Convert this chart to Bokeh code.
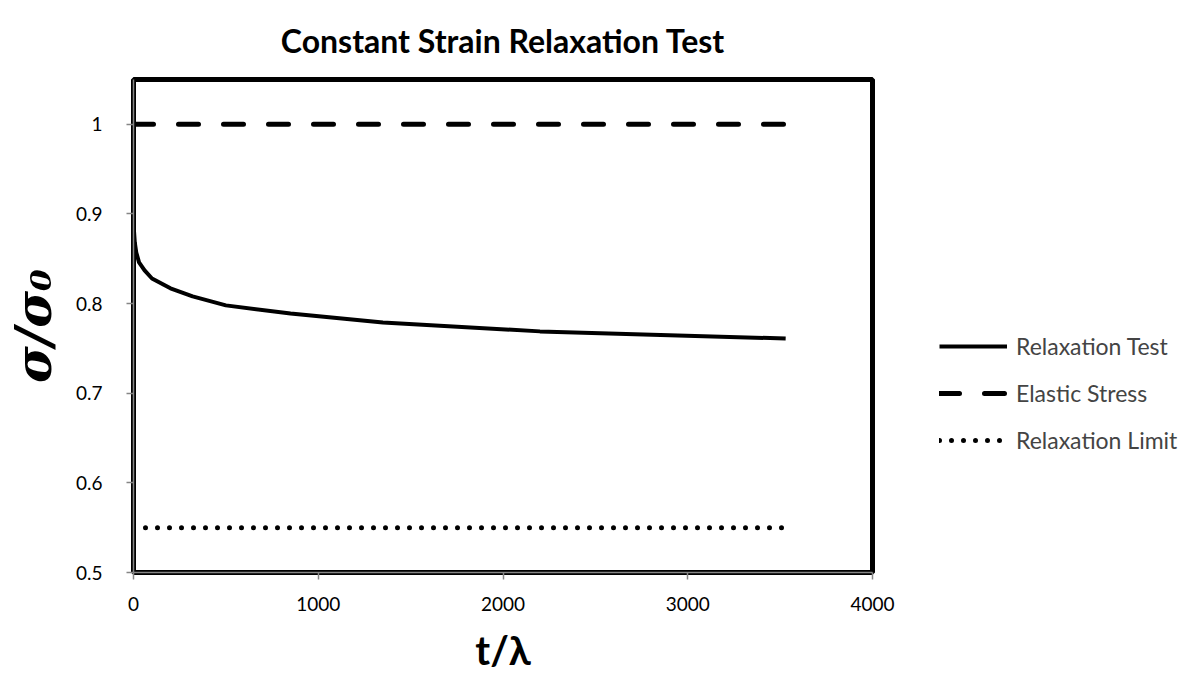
from bokeh.plotting import figure
from bokeh.models import Range1d, FixedTicker, Legend, LegendItem, Title
from bokeh.embed import file_html
from bokeh.resources import INLINE

# ---- data ----
t_relax = [0, 1, 3, 7, 15, 30, 60, 100, 200, 320, 500, 850, 1350, 2200, 3530]
s_relax = [1.0, 0.91, 0.88, 0.868, 0.857, 0.846, 0.837, 0.828, 0.817, 0.808,
           0.798, 0.789, 0.779, 0.769, 0.761]
t_ref = [0, 3530]
s_elastic = [1.0, 1.0]
s_limit = [0.55, 0.55]

x_ticks = [0, 1000, 2000, 3000, 4000]
y_ticks = [0.5, 0.6, 0.7, 0.8, 0.9, 1.0]
y_tick_labels = ["0.5", "0.6", "0.7", "0.8", "0.9", "1"]

title_text = "Constant Strain Relaxation Test"
x_label = "t/λ"
y_label = "σ/σ₀"
series_names = ["Relaxation Test", "Elastic Stress", "Relaxation Limit"]

FONT = "Lato"

p = figure(frame_width=739, frame_height=493, x_range=Range1d(0, 4000), y_range=Range1d(0.5, 1.05),
           output_backend="svg", toolbar_location=None, title=None,
           min_border_left=131, min_border_right=0, min_border_top=79, min_border_bottom=107)
p.grid.visible = False
p.outline_line_color = "black"
p.outline_line_width = 5
p.background_fill_color = "white"
p.border_fill_color = "white"

for ax in (p.xaxis[0], p.yaxis[0]):
    ax.axis_line_color = "#868686"
    ax.axis_line_width = 1.5
    ax.major_tick_line_color = "#868686"
    ax.major_tick_line_width = 1.5
    ax.major_tick_in = 0
    ax.major_tick_out = 7
    ax.minor_tick_line_color = None
    ax.major_label_text_font = FONT
    ax.major_label_text_font_size = "19px"
    ax.major_label_text_color = "black"
    ax.axis_label_text_color = "black"
    ax.axis_label_text_font_style = "bold"

p.xaxis.ticker = FixedTicker(ticks=x_ticks)
p.yaxis.ticker = FixedTicker(ticks=y_ticks)
p.yaxis.major_label_overrides = {v: l for v, l in zip(y_ticks, y_tick_labels)}
p.yaxis.major_label_standoff = 24
p.xaxis.major_label_standoff = 17

p.xaxis.axis_label = x_label
p.xaxis.axis_label_text_font = FONT
p.xaxis.axis_label_text_font_size = "40px"
p.xaxis.axis_label_standoff = 12

p.yaxis.axis_label = y_label
p.yaxis.axis_label_text_font = "DejaVu Serif"
p.yaxis.axis_label_text_font_style = "bold italic"
p.yaxis.axis_label_text_font_size = "50px"
p.yaxis.axis_label_standoff = 10

r1 = p.line(t_relax, s_relax, line_color="black", line_width=4, line_join="round")
r2 = p.line(t_ref, s_elastic, line_color="black", line_width=5, line_dash="20 25", line_cap="round")
r3 = p.line(t_ref, s_limit, line_color="black", line_width=5, line_dash="0 12", line_cap="round")

legend = Legend(items=[LegendItem(label=series_names[0], renderers=[r1]),
                       LegendItem(label=series_names[1], renderers=[r2]),
                       LegendItem(label=series_names[2], renderers=[r3])],
                location=(67, 118), glyph_width=68, glyph_height=28, label_height=28,
                label_standoff=9, spacing=19, padding=0, margin=0,
                border_line_alpha=0, background_fill_alpha=0,
                label_text_font=FONT, label_text_font_size="23px")
p.add_layout(legend, "right")

p.add_layout(Title(text=title_text, align="center", vertical_align="top", text_font=FONT,
                   text_font_style="bold", text_font_size="32px", text_color="black",
                   standoff=35), "above")

open("out.html", "w").write(file_html(p, INLINE))
